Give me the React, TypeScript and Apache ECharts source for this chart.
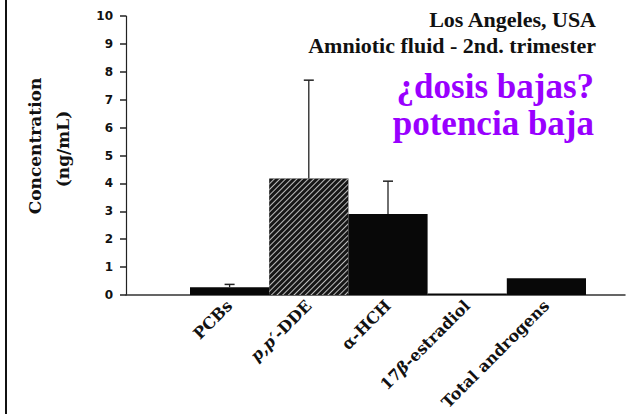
import React, { useEffect, useRef } from "react";
import * as echarts from "echarts";

const categories = ["PCBs", "p,p′-DDE", "α-HCH", "17β-estradiol", "Total androgens"];
const means = [0.28, 4.18, 2.9, 0.05, 0.6];
const upperErrors = [0.38, 7.7, 4.08, null, null];
const yTicks = [0, 10, 1];
const titleLines = ["Los Angeles, USA", "Amniotic fluid - 2nd. trimester"];
const noteLines = ["¿dosis bajas?", "potencia baja"];
const yTitle = ["Concentration", "(ng/mL)"];

function formatCat(v: string) {
  if (v === "p,p′-DDE") return "{i|p,p′}{n|-DDE}";
  if (v === "17β-estradiol") return "{n|17}{i|β}{n|-estradiol}";
  return "{n|" + v + "}";
}

export default function App() {
  const ref = useRef<HTMLDivElement>(null);
  useEffect(() => {
    if (!ref.current) return;
    const chart = echarts.init(ref.current, null, { renderer: "svg" });
    const serif = "DejaVu Serif";
    const barData = means.map((v, i) => {
      if (i === 1) {
        return {
          value: v,
          itemStyle: {
            color: "#161616",
            decal: {
              symbol: "rect",
              symbolSize: 1,
              dashArrayX: [1, 0],
              dashArrayY: [1, 3],
              rotation: -Math.PI / 4,
              color: "#bdbdbd",
            },
          },
        };
      }
      return { value: v, itemStyle: { color: "#080808" } };
    });
    const errData = upperErrors
      .map((e, i) => (e == null ? null : [i, means[i], e]))
      .filter((d) => d !== null);
    chart.setOption({
      animation: false,
      backgroundColor: "#fff",
      grid: [
        { left: 126, right: 2, top: 16, bottom: 119 },
        { left: 190, right: 41, top: 16, bottom: 119 },
      ],
      xAxis: [
        {
          gridIndex: 0,
          type: "value",
          min: 0,
          max: 1,
          axisLine: { show: true, onZero: false, lineStyle: { color: "#333", width: 1.5 } },
          axisTick: { show: false },
          axisLabel: { show: false },
          splitLine: { show: false },
        },
        {
          gridIndex: 1,
          type: "category",
          data: categories,
          axisLine: { show: false },
          axisTick: { show: false },
          axisLabel: {
            rotate: 45,
            margin: 8,
            interval: 0,
            formatter: formatCat,
            rich: {
              n: { fontFamily: serif, fontWeight: "bold", fontSize: 16, color: "#111" },
              i: { fontFamily: serif, fontWeight: "bold", fontStyle: "italic", fontSize: 16, color: "#111" },
            },
          },
        },
      ],
      yAxis: [
        {
          gridIndex: 0,
          type: "value",
          min: yTicks[0],
          max: yTicks[1],
          interval: yTicks[2],
          axisLine: { show: true, lineStyle: { color: "#222", width: 1.2 } },
          axisTick: { show: true, inside: false, length: 6, lineStyle: { color: "#222", width: 1.5 } },
          axisLabel: {
            margin: 13,
            fontFamily: "DejaVu Sans",
            fontWeight: "bold",
            fontSize: 12,
            color: "#111",
          },
          splitLine: { show: false },
        },
        {
          gridIndex: 1,
          type: "value",
          min: yTicks[0],
          max: yTicks[1],
          show: false,
          splitLine: { show: false },
        },
      ],
      series: [
        {
          type: "bar",
          xAxisIndex: 1,
          yAxisIndex: 1,
          data: barData,
          barWidth: "100%",
          barCategoryGap: 0,
        },
        {
          type: "custom",
          xAxisIndex: 1,
          yAxisIndex: 1,
          data: errData,
          renderItem: (params: any, api: any) => {
            const idx = api.value(0);
            const top = api.coord([idx, api.value(2)]);
            const base = api.coord([idx, api.value(1)]);
            const half = 5;
            return {
              type: "group",
              children: [
                {
                  type: "line",
                  shape: { x1: top[0], y1: top[1], x2: base[0], y2: base[1] },
                  style: { stroke: "#222", lineWidth: 1.3 },
                },
                {
                  type: "line",
                  shape: { x1: top[0] - half, y1: top[1], x2: top[0] + half, y2: top[1] },
                  style: { stroke: "#222", lineWidth: 1.5 },
                },
              ],
            };
          },
          z: 5,
        },
      ],
      graphic: [
        { type: "rect", shape: { x: 5, y: 0, width: 2, height: 414 }, style: { fill: "#111" } },
        {
          type: "text",
          x: 35,
          y: 146,
          rotation: Math.PI / 2,
          style: {
            text: yTitle[0],
            font: "bold 17px 'DejaVu Serif'",
            fill: "#111",
            align: "center",
            verticalAlign: "middle",
          },
        },
        {
          type: "text",
          x: 63,
          y: 149,
          rotation: Math.PI / 2,
          style: {
            text: yTitle[1],
            font: "bold 17px 'DejaVu Serif'",
            fill: "#111",
            align: "center",
            verticalAlign: "middle",
          },
        },
        {
          type: "text",
          x: 596,
          y: 19,
          style: {
            text: titleLines[0],
            font: "bold 22px 'Liberation Serif'",
            fill: "#111",
            align: "right",
            verticalAlign: "middle",
          },
        },
        {
          type: "text",
          x: 596,
          y: 45,
          style: {
            text: titleLines[1],
            font: "bold 22px 'Liberation Serif'",
            fill: "#111",
            align: "right",
            verticalAlign: "middle",
          },
        },
        {
          type: "text",
          x: 594,
          y: 86,
          style: {
            text: noteLines[0],
            font: "bold 35px 'Liberation Serif'",
            fill: "#9900ff",
            align: "right",
            verticalAlign: "middle",
          },
        },
        {
          type: "text",
          x: 594,
          y: 123,
          style: {
            text: noteLines[1],
            font: "bold 35px 'Liberation Serif'",
            fill: "#9900ff",
            align: "right",
            verticalAlign: "middle",
          },
        },
      ],
    });
    return () => chart.dispose();
  }, []);
  return (
    <div
      ref={ref}
      style={{ position: "fixed", left: 0, top: 0, width: 627, height: 414, background: "#fff" }}
    />
  );
}
